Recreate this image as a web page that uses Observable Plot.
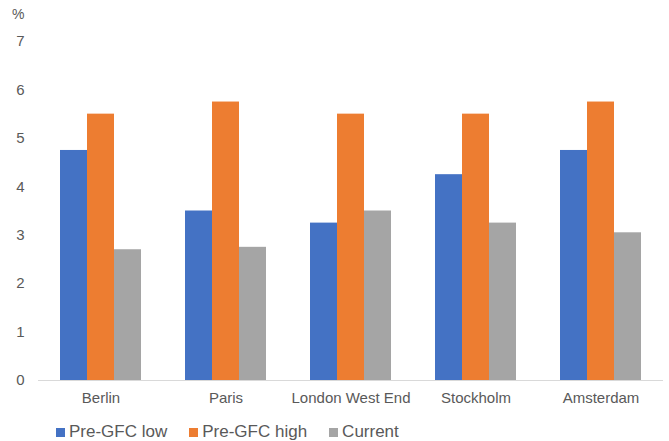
<!DOCTYPE html>
<html>
<head>
<meta charset="utf-8">
<script src="https://cdn.jsdelivr.net/npm/d3@7"></script>
<script src="https://cdn.jsdelivr.net/npm/@observablehq/plot@0.6"></script>
<style>
  body { margin: 0; background: #fff; font-family: "Liberation Sans", Arial, sans-serif; }
  #wrap { position: relative; width: 669px; height: 441px; }
  #unit { position: absolute; left: 12px; top: 6px; font-size: 14px; color: #595959; }
  #chart { position: absolute; left: 0; top: 0; }
  #chart svg text { font-size: 15px; }
  #legend { position: absolute; left: 56px; top: 422px; display: flex; font-size: 17px; color: #595959; }
  .item { display: flex; align-items: center; margin-right: 22px; }
  .sw { width: 9px; height: 9px; margin-right: 4px; }
</style>
</head>
<body>
<div id="wrap">
  <div id="chart"></div>
  <div id="unit">%</div>
  <div id="legend"></div>
</div>
<script>
const cities = ["Berlin", "Paris", "London West End", "Stockholm", "Amsterdam"];
const seriesNames = ["Pre-GFC low", "Pre-GFC high", "Current"];
const preLow = [4.75, 3.5, 3.25, 4.25, 4.75];
const preHigh = [5.5, 5.75, 5.5, 5.5, 5.75];
const current = [2.7, 2.75, 3.5, 3.25, 3.05];
const colors = ["#4472C4", "#ED7D31", "#A5A5A5"];
const yTicks = [0, 1, 2, 3, 4, 5, 6, 7];

const seriesValues = [preLow, preHigh, current];
const data = [];
cities.forEach((c, i) => {
  seriesNames.forEach((s, j) => data.push({city: c, series: s, value: seriesValues[j][i]}));
});

const chart = Plot.plot({
  width: 669,
  height: 412,
  marginLeft: 38,
  marginRight: 6,
  marginTop: 41,
  marginBottom: 32,
  style: {fontFamily: "Liberation Sans, Arial, sans-serif", color: "#595959", background: "white", fontSize: "15px"},
  fx: {domain: cities, padding: 0, label: null, tickSize: 0, tickPadding: 12},
  x: {domain: seriesNames, paddingInner: 0, paddingOuter: 0.755, axis: null},
  y: {domain: [0, 7], ticks: yTicks, tickSize: 0, tickPadding: 14, label: null, tickFormat: d => String(d)},
  color: {domain: seriesNames, range: colors},
  marks: [
    Plot.barY(data, {fx: "city", x: "series", y: "value", fill: "series"}),
    Plot.ruleY([0], {stroke: "#d9d9d9", strokeWidth: 1})
  ]
});
document.getElementById("chart").appendChild(chart);

const legend = document.getElementById("legend");
seriesNames.forEach((s, i) => {
  const item = document.createElement("div");
  item.className = "item";
  const sw = document.createElement("div");
  sw.className = "sw";
  sw.style.background = colors[i];
  const label = document.createElement("span");
  label.textContent = s;
  item.appendChild(sw);
  item.appendChild(label);
  legend.appendChild(item);
});
</script>
</body>
</html>
